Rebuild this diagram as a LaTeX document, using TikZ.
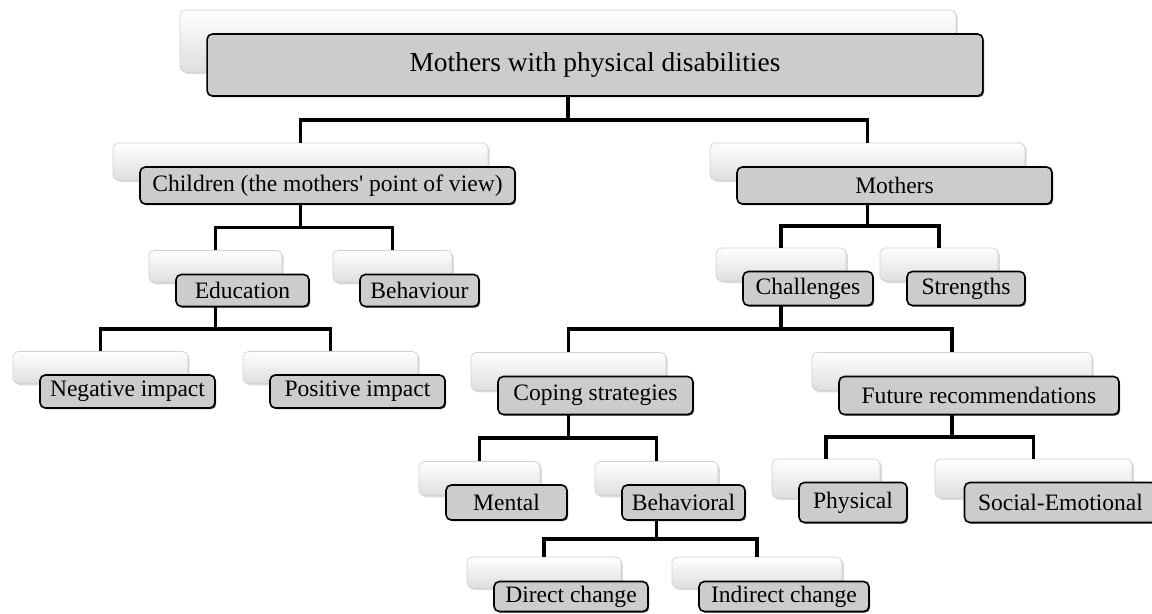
\documentclass[tikz,border=0pt]{standalone}
\usepackage{fontspec}
\setmainfont{Liberation Serif}[Ligatures=TeXOff]
\usetikzlibrary{positioning,calc,shadows}

\begin{document}
\begin{tikzpicture}[
    x=0.02cm, y=-0.02cm,
    back/.style={
      rectangle, rounded corners=3pt, draw=black!18,
      top color=white, bottom color=black!13,
      drop shadow={shadow xshift=1pt, shadow yshift=-1pt, opacity=0.3}
    },
    front/.style={
      rectangle, rounded corners=3pt, draw=black, line width=0.9pt,
      fill=black!20, inner sep=1pt, xshift=0.54cm, yshift=-0.48cm,
      font=\fontsize{13.4}{16}\selectfont,
      drop shadow={shadow xshift=0.7pt, shadow yshift=-0.7pt, opacity=0.7, fill=black}
    },
    link/.style={line width=2.2pt},
  ]
  \useasboundingbox (0,0) rectangle (1152,613);

  %% Top level
  \node[back, minimum width=15.52cm, minimum height=1.24cm] (root-b) at (568,41) {};
  \node[front, minimum width=15.52cm, minimum height=1.24cm, font=\fontsize{15.6}{18}\selectfont]
    (root) at (root-b) {Mothers with physical disabilities};

  %% Second level
  \node[back, minimum width=7.5cm, minimum height=0.74cm] (kids-b) at (300.5,161.5) {};
  \node[front, minimum width=7.5cm, minimum height=0.74cm] (kids) at (kids-b)
    {Children (the mothers' point of view)};
  \node[back, minimum width=6.3cm, minimum height=0.74cm] (moms-b) at (867.5,161.5) {};
  \node[front, minimum width=6.3cm, minimum height=0.74cm] (moms) at (moms-b) {Mothers};

  %% Children branch
  \node[back, minimum width=2.66cm, minimum height=0.64cm] (edu-b) at (215.5,266.5) {};
  \node[front, minimum width=2.66cm, minimum height=0.64cm] (edu) at (edu-b) {Education};
  \node[back, minimum width=2.38cm, minimum height=0.64cm] (beh-b) at (392.5,266.5) {};
  \node[front, minimum width=2.38cm, minimum height=0.64cm] (beh) at (beh-b) {Behaviour};
  \node[back, minimum width=3.5cm, minimum height=0.64cm] (neg-b) at (100.5,367.5) {};
  \node[front, minimum width=3.5cm, minimum height=0.66cm] (neg) at (neg-b) {Negative impact};
  \node[back, minimum width=3.5cm, minimum height=0.64cm] (pos-b) at (330.5,367.5) {};
  \node[front, minimum width=3.5cm, minimum height=0.66cm] (pos) at (pos-b) {Positive impact};

  %% Mothers branch
  \node[back, minimum width=2.6cm, minimum height=0.66cm] (chal-b) at (781,264.5) {};
  \node[front, minimum width=2.6cm, minimum height=0.68cm] (chal) at (chal-b) {Challenges};
  \node[back, minimum width=2.36cm, minimum height=0.66cm] (str-b) at (939,264.5) {};
  \node[front, minimum width=2.36cm, minimum height=0.68cm] (str) at (str-b) {Strengths};
  \node[back, minimum width=3.9cm, minimum height=0.76cm] (cope-b) at (568.5,371.5) {};
  \node[front, minimum width=3.9cm, minimum height=0.76cm] (cope) at (cope-b) {Coping strategies};
  \node[back, minimum width=5.6cm, minimum height=0.76cm] (fut-b) at (952,371.5) {};
  \node[front, minimum width=5.6cm, minimum height=0.76cm] (fut) at (fut-b) {Future recommendations};

  %% Coping and recommendations
  \node[back, minimum width=2.42cm, minimum height=0.68cm] (ment-b) at (479.5,478.5) {};
  \node[front, minimum width=2.42cm, minimum height=0.7cm] (ment) at (ment-b) {Mental};
  \node[back, minimum width=2.46cm, minimum height=0.68cm] (behv-b) at (656.5,478.5) {};
  \node[front, minimum width=2.46cm, minimum height=0.7cm] (behv) at (behv-b) {Behavioral};
  \node[back, minimum width=2.16cm, minimum height=0.78cm] (phys-b) at (826,478.5) {};
  \node[front, minimum width=2.16cm, minimum height=0.8cm] (phys) at (phys-b) {Physical};
  \node[back, minimum width=3.94cm, minimum height=0.78cm] (soc-b) at (1033.5,478.5) {};
  \node[front, minimum width=3.84cm, minimum height=0.8cm] (soc) at (soc-b) {Social-Emotional};
  \node[back, minimum width=3.08cm, minimum height=0.62cm] (dir-b) at (544,572.5) {};
  \node[front, minimum width=3.08cm, minimum height=0.6cm] (dir) at (dir-b) {Direct change};
  \node[back, minimum width=3.4cm, minimum height=0.62cm] (ind-b) at (757,572.5) {};
  \node[front, minimum width=3.4cm, minimum height=0.6cm] (ind) at (ind-b) {Indirect change};

  %% Connectors
  \draw[link] (root-b |- root.south) |- ($(root.south)!.5!(kids-b.north)$) -| (kids-b.north);
  \draw[link] (root-b |- root.south) |- ($(root.south)!.5!(moms-b.north)$) -| (moms-b.north);
  \draw[link] (kids-b |- kids.south) |- ($(kids.south)!.5!(edu-b.north)$) -| (edu-b.north);
  \draw[link] (kids-b |- kids.south) |- ($(kids.south)!.5!(beh-b.north)$) -| (beh-b.north);
  \draw[link] (edu-b |- edu.south) |- ($(edu.south)!.5!(neg-b.north)$) -| (neg-b.north);
  \draw[link] (edu-b |- edu.south) |- ($(edu.south)!.5!(pos-b.north)$) -| (pos-b.north);
  \draw[link] (moms-b |- moms.south) |- ($(moms.south)!.5!(chal-b.north)$) -| (chal-b.north);
  \draw[link] (moms-b |- moms.south) |- ($(moms.south)!.5!(str-b.north)$) -| (str-b.north);
  \draw[link] (chal-b |- chal.south) |- ($(chal.south)!.5!(cope-b.north)$) -| (cope-b.north);
  \draw[link] (chal-b |- chal.south) |- ($(chal.south)!.5!(fut-b.north)$) -| (fut-b.north);
  \draw[link] (cope-b |- cope.south) |- ($(cope.south)!.5!(ment-b.north)$) -| (ment-b.north);
  \draw[link] (cope-b |- cope.south) |- ($(cope.south)!.5!(behv-b.north)$) -| (behv-b.north);
  \draw[link] (fut-b |- fut.south) |- ($(fut.south)!.5!(phys-b.north)$) -| (phys-b.north);
  \draw[link] (fut-b |- fut.south) |- ($(fut.south)!.5!(soc-b.north)$) -| (soc-b.north);
  \draw[link] (behv-b |- behv.south) |- ($(behv.south)!.5!(dir-b.north)$) -| (dir-b.north);
  \draw[link] (behv-b |- behv.south) |- ($(behv.south)!.5!(ind-b.north)$) -| (ind-b.north);

\end{tikzpicture}
\end{document}
